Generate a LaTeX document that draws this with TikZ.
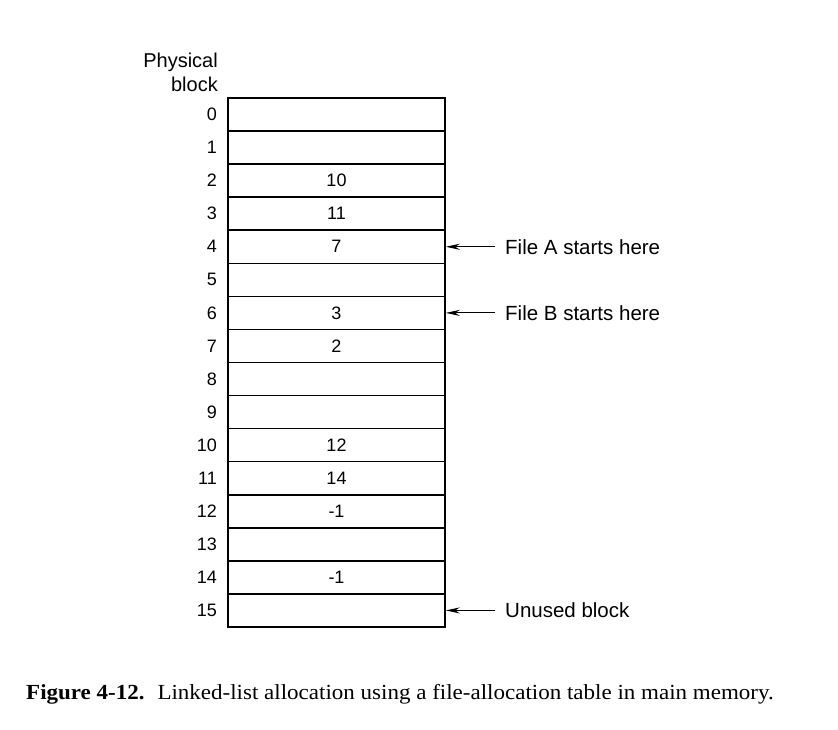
\documentclass[tikz,border=0pt]{standalone}
\usepackage{fontspec}
\setmainfont{Liberation Serif}[FakeStretch=1.07]
\newfontfamily\hv{Liberation Sans}
\usetikzlibrary{arrows.meta}
\begin{document}
\begin{tikzpicture}[x=1pt,y=-1pt,
  cell/.style={draw,line width=1.6pt,minimum width=217pt,minimum height=33.06pt,inner sep=0pt,font=\hv\fontsize{18}{20}\selectfont},
  idx/.style={anchor=east,inner sep=0pt,font=\hv\fontsize{18}{20}\selectfont},
  lbl/.style={anchor=west,inner sep=0pt,font=\hv\fontsize{20.5}{22}\selectfont},
  ptr/.style={line width=1pt,-{Stealth[length=14pt,width=6pt]}}]
\useasboundingbox (0,0) rectangle (838,730);
\foreach \i/\v in {0/,1/,2/10,3/11,4/7,5/,6/3,7/2,8/,9/,10/12,11/14,12/-1,13/,14/-1,15/}{
  \node[cell] (c\i) at (336.5,{98+(\i+0.5)*33.06}) {\v};
  \node[idx] (n\i) at (217,{98+(\i+0.5)*33.06}) {\i};
}
\node[idx,align=right,font=\hv\fontsize{20}{24}\selectfont] (hdr) at (218,72) {Physical\\block};
\node[lbl] (la) at (505,{98+4.5*33.06}) {File A starts here};
\node[lbl] (lb) at (505,{98+6.5*33.06}) {File B starts here};
\node[lbl] (lu) at (505,{98+15.5*33.06}) {Unused block};
\coordinate (ta) at ([xshift=-10pt]la.west);
\coordinate (tb) at ([xshift=-10pt]lb.west);
\coordinate (tu) at ([xshift=-10pt]lu.west);
\draw[ptr] (ta) -- (c4.east);
\draw[ptr] (tb) -- (c6.east);
\draw[ptr] (tu) -- (c15.east);
\node[anchor=base west,inner sep=0pt,font=\fontsize{21.5}{23}\selectfont] (cap) at (26,699) {\textbf{Figure 4-12.}\hspace{0.6em}Linked-list allocation using a file-allocation table in main memory.};
\end{tikzpicture}
\end{document}
